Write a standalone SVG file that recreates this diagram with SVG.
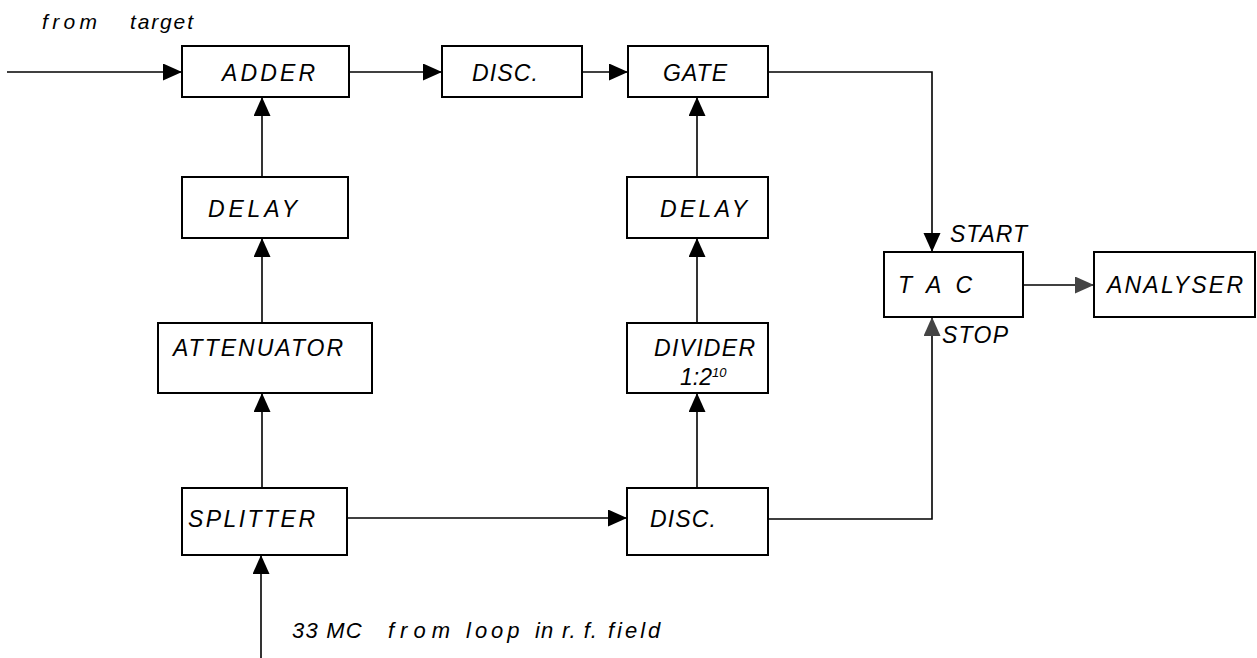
<svg xmlns="http://www.w3.org/2000/svg" width="1257" height="658" viewBox="0 0 1257 658">
<defs>
<style>
.box{fill:#fff;stroke:#000;stroke-width:2}
.t{font-family:"Liberation Sans",Arial,sans-serif;font-style:italic;font-size:23px;fill:#000}
.s{font-family:"Liberation Sans",Arial,sans-serif;font-style:italic;font-size:21px;fill:#000}
.b{font-family:"Liberation Sans",Arial,sans-serif;font-style:italic;font-size:22px;fill:#000}
.c{fill:none;stroke:#000;stroke-width:1.6}
</style>
<marker id="ah" markerUnits="userSpaceOnUse" markerWidth="20" markerHeight="18" refX="19" refY="8.5" orient="auto">
<path d="M0,0 L19,8.5 L0,17 z" fill="#000"/>
</marker>
<marker id="ahg" markerUnits="userSpaceOnUse" markerWidth="20" markerHeight="18" refX="19" refY="8.5" orient="auto">
<path d="M0,0 L19,8.5 L0,17 z" fill="#444"/>
</marker>
</defs>
<rect width="1257" height="658" fill="#fff"/>
<g id="connectors">
<path class="c" d="M7,72 H182" marker-end="url(#ah)"/>
<path class="c" d="M349,72 H442" marker-end="url(#ah)"/>
<path class="c" d="M582,72 H628" marker-end="url(#ah)"/>
<path class="c" d="M768,72 H932 V252" marker-end="url(#ah)"/>
<path class="c" d="M262,177 V97" marker-end="url(#ah)"/>
<path class="c" d="M262,323 V238" marker-end="url(#ah)"/>
<path class="c" d="M262,488 V393" marker-end="url(#ah)"/>
<path class="c" d="M261,658 V555" marker-end="url(#ah)"/>
<path class="c" d="M347,518 H627" marker-end="url(#ah)"/>
<path class="c" d="M697,177 V97" marker-end="url(#ah)"/>
<path class="c" d="M697,323 V238" marker-end="url(#ah)"/>
<path class="c" d="M697,488 V393" marker-end="url(#ah)"/>
<path class="c" d="M768,519 H932 V317" marker-end="url(#ahg)"/>
<path class="c" d="M1023,285 H1094" marker-end="url(#ahg)"/>
</g>
<g id="labels">
<text class="s" x="42" y="29" textLength="55" lengthAdjust="spacing">from</text>
<text class="s" x="130" y="29" textLength="63" lengthAdjust="spacing">target</text>
<text class="t" x="950" y="242" textLength="77" lengthAdjust="spacing">START</text>
<text class="t" x="942" y="343" textLength="66" lengthAdjust="spacing">STOP</text>
<text class="b" y="638"><tspan x="292" letter-spacing="1.2">33 MC</tspan><tspan x="388" letter-spacing="6">from</tspan><tspan x="466" letter-spacing="4">loop</tspan><tspan x="535" letter-spacing="1">in</tspan><tspan x="562" letter-spacing="1">r. f.</tspan><tspan x="608" letter-spacing="3">field</tspan></text>
</g>
<g id="adder"><rect class="box" x="182" y="46" width="167" height="51"/><text class="t" x="222" y="81" textLength="93" lengthAdjust="spacing">ADDER</text></g>
<g id="disc1"><rect class="box" x="442" y="46" width="140" height="51"/><text class="t" x="472" y="81" textLength="66" lengthAdjust="spacing">DISC.</text></g>
<g id="gate"><rect class="box" x="628" y="46" width="140" height="51"/><text class="t" x="663" y="81" textLength="64" lengthAdjust="spacing">GATE</text></g>
<g id="delay1"><rect class="box" x="182" y="177" width="166" height="61"/><text class="t" x="208" y="217" textLength="89" lengthAdjust="spacing">DELAY</text></g>
<g id="delay2"><rect class="box" x="627" y="177" width="141" height="61"/><text class="t" x="660" y="217" textLength="87" lengthAdjust="spacing">DELAY</text></g>
<g id="attenuator"><rect class="box" x="158" y="323" width="214" height="70"/><text class="t" x="173" y="356" textLength="170" lengthAdjust="spacing">ATTENUATOR</text></g>
<g id="divider"><rect class="box" x="627" y="323" width="141" height="70"/><text class="t" x="654" y="356" textLength="101" lengthAdjust="spacing">DIVIDER</text><text class="t" x="680" y="385">1:2<tspan font-size="13" dy="-8">10</tspan></text></g>
<g id="splitter"><rect class="box" x="182" y="488" width="165" height="67"/><text class="t" x="188" y="527" textLength="127" lengthAdjust="spacing">SPLITTER</text></g>
<g id="disc2"><rect class="box" x="627" y="488" width="141" height="67"/><text class="t" x="650" y="527" textLength="66" lengthAdjust="spacing">DISC.</text></g>
<g id="tac"><rect class="box" x="884" y="252" width="139" height="65"/><text class="t" x="898" y="293" textLength="74" lengthAdjust="spacing">T A C</text></g>
<g id="analyser"><rect class="box" x="1094" y="252" width="161" height="65"/><text class="t" x="1107" y="293" textLength="136" lengthAdjust="spacing">ANALYSER</text></g>
</svg>
